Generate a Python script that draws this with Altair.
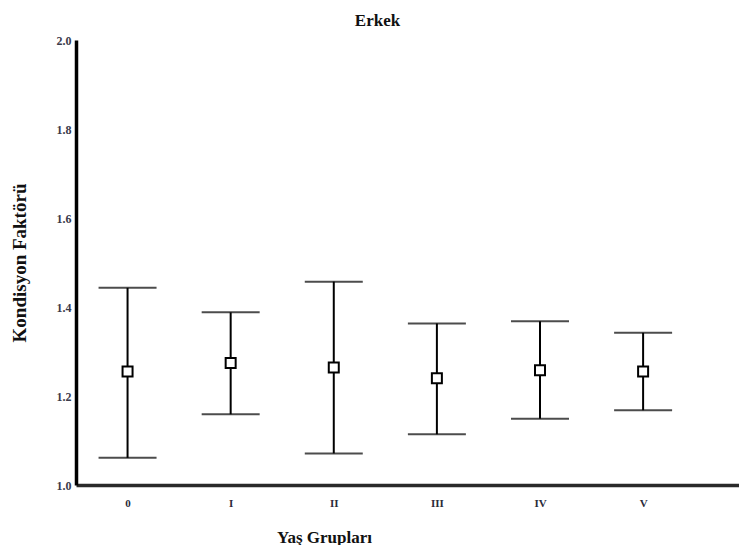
import json
import altair as alt
import pandas as pd

# Data
groups = ["0", "I", "II", "III", "IV", "V"]
means = [1.255, 1.274, 1.264, 1.240, 1.258, 1.255]
upper = [1.443, 1.388, 1.457, 1.363, 1.368, 1.342]
lower = [1.061, 1.159, 1.071, 1.114, 1.149, 1.168]
y_ticks = [1.0, 1.2, 1.4, 1.6, 1.8, 2.0]

df = pd.DataFrame({
    "idx": list(range(len(groups))),
    "group": groups,
    "mean": means,
    "upper": upper,
    "lower": lower,
})

FONT = "Liberation Serif"
label_expr = json.dumps(groups) + "[datum.value]"

x_enc = alt.X(
    "idx:Q",
    scale=alt.Scale(domain=[-0.5, 5.93], nice=False, zero=False),
    axis=alt.Axis(
        values=list(range(len(groups))),
        labelExpr=label_expr,
        title="Yaş Grupları",
        grid=False,
        ticks=False,
        domainColor="#2a2a2a",
        domainWidth=3.5,
        labelFont=FONT,
        labelFontWeight="bold",
        labelFontSize=11,
        labelColor="#2b2b3a",
        labelPadding=12,
        titleFont=FONT,
        titleFontWeight="bold",
        titleFontSize=17,
        titleColor="#111111",
        titleX=248,
        titleY=44,
        titleBaseline="top",
    ),
)

y_scale = alt.Scale(domain=[1.0, 2.0], nice=False, zero=False)
y_axis = alt.Axis(
    values=y_ticks,
    format=".1f",
    title="Kondisyon Faktörü",
    grid=False,
    ticks=False,
    domainColor="#000000",
    domainWidth=3.5,
    labelFont=FONT,
    labelFontWeight="bold",
    labelFontSize=12,
    labelColor="#3a3a4a",
    labelPadding=5,
    titleFont=FONT,
    titleFontWeight="bold",
    titleFontSize=19,
    titleColor="#111111",
    titleX=-47,
    titleBaseline="bottom",
)

base = alt.Chart(df)

whisker = base.mark_rule(color="black", strokeWidth=2).encode(
    x=x_enc,
    y=alt.Y("lower:Q", scale=y_scale, axis=y_axis),
    y2="upper:Q",
)

cap_top = base.mark_tick(color="black", orient="horizontal", size=58, thickness=2).encode(
    x="idx:Q", y="upper:Q"
)
cap_bot = base.mark_tick(color="black", orient="horizontal", size=58, thickness=2).encode(
    x="idx:Q", y="lower:Q"
)

points = base.mark_square(
    size=100, fill="white", stroke="black", strokeWidth=2, opacity=1
).encode(x="idx:Q", y="mean:Q")

chart = (
    alt.layer(whisker, cap_top, cap_bot, points)
    .properties(
        width=663,
        height=445,
        title=alt.TitleParams(
            "Erkek",
            font=FONT,
            fontWeight="bold",
            fontSize=17,
            color="#111111",
            anchor="middle",
            dx=-30,
            offset=4,
        ),
        view=alt.ViewBackground(strokeOpacity=0, strokeWidth=0),
        autosize=alt.AutoSizeParams(type="none"),
        padding={"left": 68, "top": 32, "right": 0, "bottom": 60},
    )
    .configure_view(strokeOpacity=0, strokeWidth=0)
    .configure_axis(grid=False)
    .configure(background="white")
)

chart.save("out.html", embed_options={"renderer": "svg", "actions": False})
